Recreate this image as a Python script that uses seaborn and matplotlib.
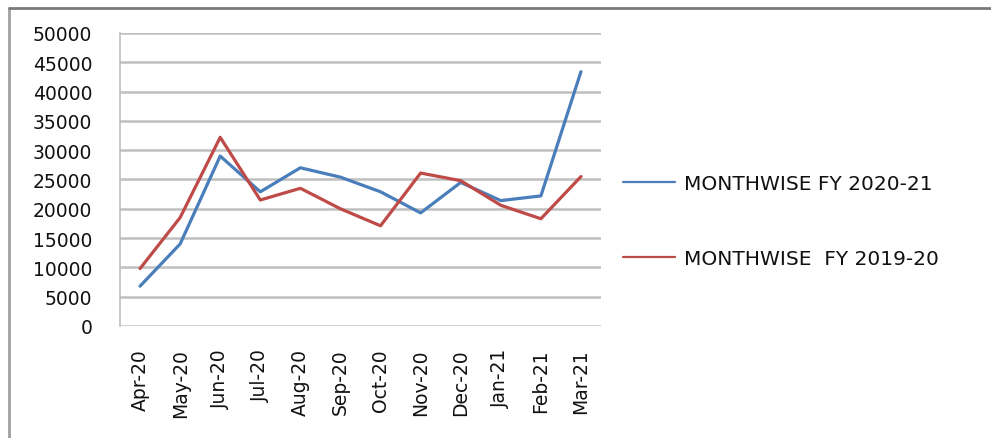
import pandas as pd
import seaborn as sns
import matplotlib.pyplot as plt
from matplotlib.lines import Line2D

# Values
months = ["Apr-20", "May-20", "Jun-20", "Jul-20", "Aug-20", "Sep-20",
          "Oct-20", "Nov-20", "Dec-20", "Jan-21", "Feb-21", "Mar-21"]
fy_2020_21 = [6800, 14000, 29000, 22900, 27000, 25400,
              22900, 19300, 24500, 21400, 22200, 43400]
fy_2019_20 = [9800, 18500, 32200, 21500, 23500, 20000,
              17100, 26100, 24800, 20600, 18300, 25500]
labels = ["MONTHWISE FY 2020-21", "MONTHWISE  FY 2019-20"]
colors = ["#4a7ebb", "#be4b48"]

df = pd.DataFrame({
    "month": months * 2,
    "value": fy_2020_21 + fy_2019_20,
    "series": [labels[0]] * len(months) + [labels[1]] * len(months),
})

sns.set_style("white")
plt.rcParams["font.family"] = ["DejaVu Sans"]
plt.rcParams["text.color"] = "#111111"
plt.rcParams["xtick.labelcolor"] = "#111111"
plt.rcParams["ytick.labelcolor"] = "#111111"

fig = plt.figure(figsize=(9.91, 4.39), dpi=100)
ax = fig.add_axes([120 / 991, 1 - 327 / 439, 481 / 991, 293 / 439])

sns.lineplot(data=df, x="month", y="value", hue="series", palette=colors,
             sort=False, linewidth=2.3, legend=False, ax=ax)

ax.set_xlim(-0.5, len(months) - 0.5)
ax.set_ylim(0, 50000)
ax.set_yticks(range(0, 50001, 5000))
ax.set_xticks(range(len(months)))
ax.set_xticklabels(months, rotation=90, fontsize=13.5)
ax.set_xticks([i - 0.5 for i in range(len(months) + 1)], minor=True)
ax.tick_params(axis="x", which="major", length=0, pad=16)
ax.tick_params(axis="x", which="minor", length=7, width=1.2, color="#a6a6a6")
ax.tick_params(axis="y", length=7, width=1.5, color="#bfbfbf", labelsize=13.5, pad=13)
ax.set_xlabel("")
ax.set_ylabel("")

ax.grid(axis="y", color="#c0c0c0", linewidth=1.8)
ax.set_axisbelow(True)
for side in ["top", "right", "bottom"]:
    ax.spines[side].set_visible(False)
ax.spines["left"].set_color("#bfbfbf")
ax.spines["left"].set_linewidth(1.2)

handles = [Line2D([], [], color=c, linewidth=1.6) for c in colors]
fig.legend(handles, labels, loc="center left",
           bbox_to_anchor=(605 / 991, 1 - 222 / 439), frameon=False,
           fontsize=14.5, handlelength=2.6, handletextpad=0.4,
           labelspacing=2.8)

# outer chart frame (top and left edges)
fig.add_artist(Line2D([9 / 991, 9 / 991], [0, 1 - 9 / 439],
                      transform=fig.transFigure, color="#a0a0a0", linewidth=2))
fig.add_artist(Line2D([9 / 991, 1], [1 - 9 / 439, 1 - 9 / 439],
                      transform=fig.transFigure, color="#7a7a7a", linewidth=2))

fig.savefig("out.png", dpi=100)
